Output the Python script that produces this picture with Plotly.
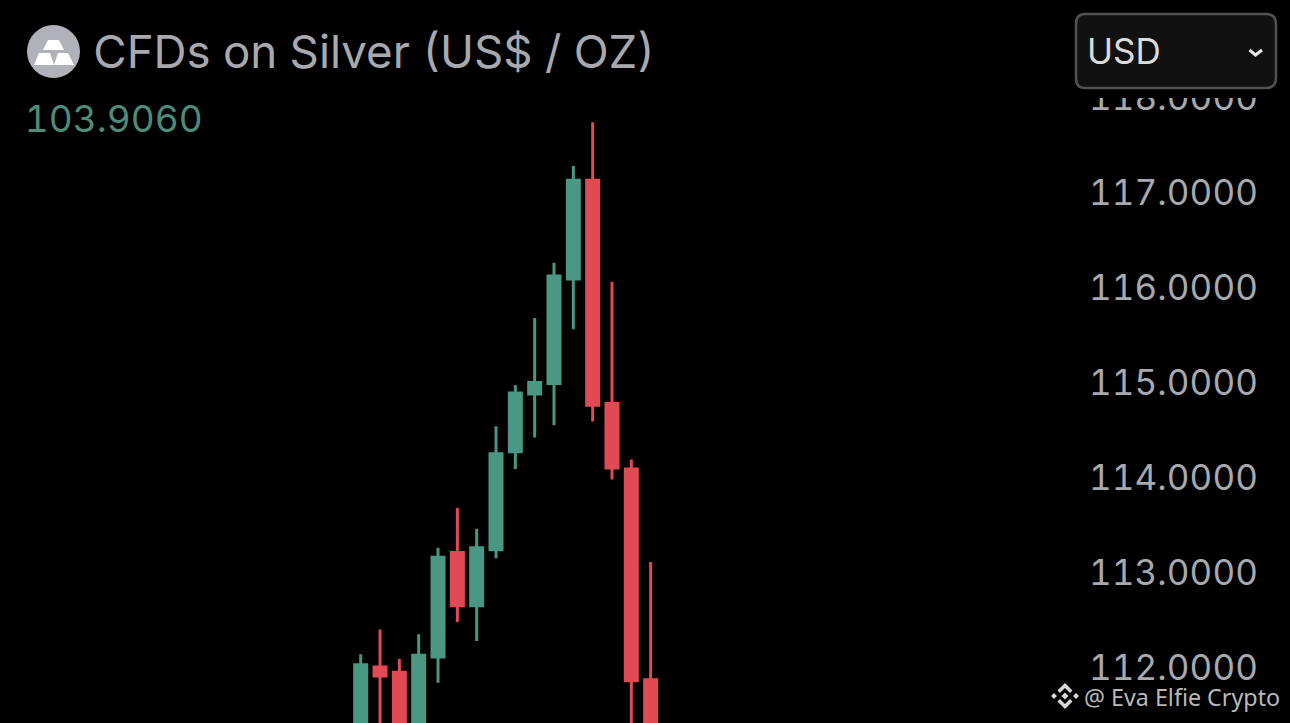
import plotly.graph_objects as go

# Candles
candle_index = list(range(16))
opens  = [111.30, 112.005, 111.95, 111.35, 112.11, 113.21, 112.65, 113.24, 114.27, 114.88, 114.99, 116.09, 117.13, 114.78, 114.09, 111.87]
highs  = [112.14, 112.40, 112.09, 112.35, 113.26, 113.68, 113.46, 114.54, 114.97, 115.68, 116.26, 117.28, 117.74, 116.06, 114.19, 113.11]
lows   = [111.10, 111.10, 111.05, 111.10, 111.84, 112.48, 112.28, 113.15, 114.09, 114.42, 114.55, 115.56, 114.59, 113.98, 111.10, 111.05]
closes = [112.03, 111.91, 111.30, 112.13, 113.16, 112.65, 113.26, 114.25, 114.89, 115.00, 116.12, 117.13, 114.76, 114.10, 111.86, 111.20]

y_ticks = [112, 113, 114, 115, 116, 117, 118]
title_text = "CFDs on Silver (US$ / OZ)"
price_text = "103.9060"
currency_text = "USD"
credit_text = "@ Eva Elfie Crypto"

GREEN = "#4a9784"
RED = "#e14a53"
GREY = "#a8a9af"
FONT = "Inter, 'Noto Sans', sans-serif"
W, H = 1290, 723
PLOT_RIGHT = 1261

px_per_candle = 19.33
px_per_unit = 95.0
x0 = -360.7 / px_per_candle
x1 = (PLOT_RIGHT - 360.7) / px_per_candle
y_top = 117 + 192.5 / px_per_unit
y_bot = 117 - (H - 192.5) / px_per_unit

fig = go.Figure(go.Candlestick(
    x=candle_index, open=opens, high=highs, low=lows, close=closes,
    increasing=dict(line=dict(color=GREEN, width=3), fillcolor=GREEN),
    decreasing=dict(line=dict(color=RED, width=3), fillcolor=RED),
    whiskerwidth=0, hoverinfo="skip", showlegend=False,
))


def px_path(points):
    return "M" + " L".join(f"{x/W:.5f},{1-y/H:.5f}" for x, y in points) + " Z"


def poly(points, color):
    return dict(type="path", xref="paper", yref="paper", path=px_path(points),
                fillcolor=color, line=dict(width=0), layer="above")


def diamond(cx, cy, r, color):
    return poly([(cx, cy - r), (cx + r, cy), (cx, cy + r), (cx - r, cy)], color)


shapes = []
# coin icon
shapes.append(dict(type="circle", xref="paper", yref="paper", x0=27/W, x1=80/W,
                   y0=1-78/H, y1=1-25/H, fillcolor="#b1b1b9", line=dict(width=0), layer="above"))
shapes.append(poly([(48, 40), (59, 40), (64, 50), (43, 50)], "#ffffff"))
shapes.append(poly([(39, 53), (50, 53), (54, 65), (34, 65)], "#ffffff"))
shapes.append(poly([(58, 53), (68, 53), (74, 65), (54, 65)], "#ffffff"))
# black strip that hides the top of the label under the selector
shapes.append(poly([(1070, 0), (1285, 0), (1285, 98), (1070, 98)], "#000000"))
# currency selector
shapes.append(dict(type="path", xref="paper", yref="paper",
                   path=("M{:.5f},{:.5f} L{:.5f},{:.5f} Q{:.5f},{:.5f} {:.5f},{:.5f} L{:.5f},{:.5f} "
                         "Q{:.5f},{:.5f} {:.5f},{:.5f} L{:.5f},{:.5f} Q{:.5f},{:.5f} {:.5f},{:.5f} "
                         "L{:.5f},{:.5f} Q{:.5f},{:.5f} {:.5f},{:.5f} Z").format(
                       1085/W, 1-14/H, 1266/W, 1-14/H, 1276/W, 1-14/H, 1276/W, 1-24/H,
                       1276/W, 1-78/H, 1276/W, 1-88/H, 1266/W, 1-88/H,
                       1085/W, 1-88/H, 1076/W, 1-88/H, 1076/W, 1-78/H,
                       1076/W, 1-24/H, 1076/W, 1-14/H, 1085/W, 1-14/H),
                   fillcolor="#111112", line=dict(color="#505254", width=2.5), layer="above"))
shapes.append(dict(type="path", xref="paper", yref="paper",
                   path=f"M{1249.5/W:.5f},{1-50/H:.5f} L{1255.5/W:.5f},{1-55/H:.5f} L{1262/W:.5f},{1-50/H:.5f}",
                   line=dict(color="#e8e8e8", width=3), layer="above"))
# credit logo
logo_c = "#d8d8d8"
shapes.append(diamond(1065, 696, 3.5, logo_c))
shapes.append(diamond(1054, 696, 3, logo_c))
shapes.append(diamond(1076, 696, 3, logo_c))
shapes.append(poly([(1065, 683), (1072.5, 690.5), (1070, 693), (1065, 688), (1060, 693), (1057.5, 690.5)], logo_c))
shapes.append(poly([(1065, 709), (1072.5, 701.5), (1070, 699), (1065, 704), (1060, 699), (1057.5, 701.5)], logo_c))

annotations = [
    dict(text=title_text, x=91/W, y=1-52/H, font=dict(size=45.7, color=GREY, family=FONT)),
    dict(text=price_text, x=30/W, y=1-119/H, font=dict(size=37, color="#4f8b7b", family=FONT)),
    dict(text=currency_text, x=1085/W, y=1-51/H, font=dict(size=35, color="#dcdcdc", family=FONT)),
    dict(text=credit_text, x=1082/W, y=1-697/H, font=dict(size=23.3, color="#b9b9bb", family="'Noto Sans', sans-serif")),
]
for a in annotations:
    a.update(xref="paper", yref="paper", xanchor="left", yanchor="middle", showarrow=False)

fig.update_layout(
    width=W, height=H,
    autosize=False,
    boxgap=0.1, boxgroupgap=0.31,
    paper_bgcolor="#000000", plot_bgcolor="#000000",
    margin=dict(l=0, r=0, t=0, b=0),
    shapes=shapes, annotations=annotations,
    xaxis=dict(domain=[0, PLOT_RIGHT / W], range=[x0, x1], visible=False,
               rangeslider=dict(visible=False), fixedrange=True),
    yaxis=dict(range=[y_bot, y_top], side="right", ticklabelposition="inside",
               tickvals=y_ticks, tickformat=".4f", showgrid=False, zeroline=False,
               showline=False, ticks="", fixedrange=True,
               tickfont=dict(size=35, color=GREY, family=FONT)),
)
page_css = """
var s = document.createElement('style');
s.textContent = 'html,body{margin:0;padding:0;background:#000;overflow:hidden}'
  + ' .ytick text{font-variant-numeric:tabular-nums !important;font-feature-settings:"tnum" 1 !important;letter-spacing:0.1px}'
  + ' .annotation-text{font-feature-settings:"tnum" 1 !important}'
  + ' .annotation:nth-of-type(2) .annotation-text{letter-spacing:1.6px}';
document.head.appendChild(s);
"""
fig.write_html("out.html", config=dict(displayModeBar=False), post_script=page_css)
